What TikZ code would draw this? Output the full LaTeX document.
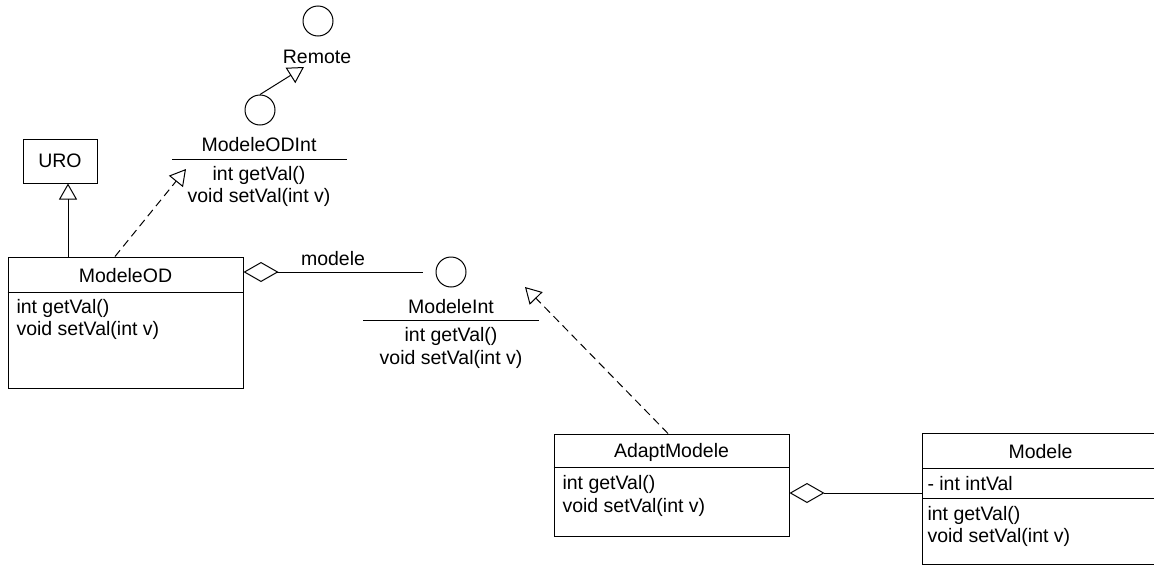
\documentclass[tikz,border=0pt]{standalone}
\usepackage{fontspec}
\setmainfont{Liberation Sans}
\usetikzlibrary{arrows.meta}

\begin{document}
\begin{tikzpicture}[x=1pt, y=-1pt, line width=1pt,
  font=\fontsize{19.5}{22.5}\selectfont,
  classbox/.style={draw, rectangle, inner sep=0pt},
  iface/.style={draw, circle, minimum size=30pt, inner sep=0pt},
  txt/.style={inner sep=0pt},
  meth/.style={txt, align=left, anchor=west},
  imeth/.style={txt, align=center},
  inherit/.style={-{Triangle[open, length=16pt, width=18pt]}},
  realize/.style={inherit, dash pattern=on 8pt off 5pt},
  aggr/.style={{Diamond[open, length=35pt, width=20pt]}-}]
  \useasboundingbox (0,0) rectangle (1154,565);

  % classes
  \node[classbox, minimum width=74pt, minimum height=44pt] (uro) at (60,161) {URO};

  \node[classbox, minimum width=235pt, minimum height=131pt] (modeleod) at (125.5,322.5) {};
  \node[txt] (modeleod-name) at (125.5,276) {ModeleOD};
  \draw (modeleod.west |- 0,292) -- (modeleod.east |- 0,292);
  \node[meth] (modeleod-ops) at (16,319.5) {int getVal()\\void setVal(int v)};

  \node[classbox, minimum width=235pt, minimum height=102pt] (adapt) at (671.5,485) {};
  \node[txt] (adapt-name) at (671.5,452) {AdaptModele};
  \draw (adapt.west |- 0,467) -- (adapt.east |- 0,467);
  \node[meth] (adapt-ops) at (562,496) {int getVal()\\void setVal(int v)};

  % Modele runs off the right edge
  \node[minimum width=247pt, minimum height=130pt, inner sep=0pt] (modele) at (1046.5,499) {};
  \draw (modele.north east) -- (modele.north west) -- (modele.south west) -- (modele.south east);
  \node[txt] (modele-name) at (1040.5,452) {Modele};
  \draw (modele.west |- 0,468) -- (modele.east |- 0,468);
  \node[meth] (modele-attr) at (927,484) {- int intVal};
  \draw (modele.west |- 0,498) -- (modele.east |- 0,498);
  \node[meth] (modele-ops) at (927,526.5) {int getVal()\\void setVal(int v)};

  % interfaces
  \node[iface] (remote) at (318,21) {};
  \node[txt] (remote-name) at (317,57) {Remote};

  \node[iface] (odint) at (260,110) {};
  \node[txt] (odint-name) at (259,145) {ModeleODInt};
  \draw (172,159) -- (347,159);
  \node[imeth] (odint-ops) at (259,186.5) {int getVal()\\void setVal(int v)};

  \node[iface] (mint) at (451,272) {};
  \node[txt] (mint-name) at (451,307) {ModeleInt};
  \draw (363,320) -- (539,320);
  \node[imeth] (mint-ops) at (451,348) {int getVal()\\void setVal(int v)};

  % relations
  \coordinate (remote-tip) at (304,67);
  \coordinate (odint-tip) at (186,169);
  \coordinate (mint-tip) at (525,287);
  \draw[inherit] (odint.north) -- (remote-tip);
  \draw[inherit] (modeleod.north -| 68,0) -- (uro.south -| 68,0);
  \draw[realize] (modeleod.north -| 115,0) -- (odint-tip);
  \draw[realize] (adapt.north -| 668,0) -- (mint-tip);
  \draw[aggr, shorten >=13pt] (modeleod.east |- mint) -- (mint.west);
  \node[txt] (role) at (333,259) {modele};
  \draw[aggr] (adapt.east |- 0,493) -- (modele.west |- 0,493);
\end{tikzpicture}
\end{document}
